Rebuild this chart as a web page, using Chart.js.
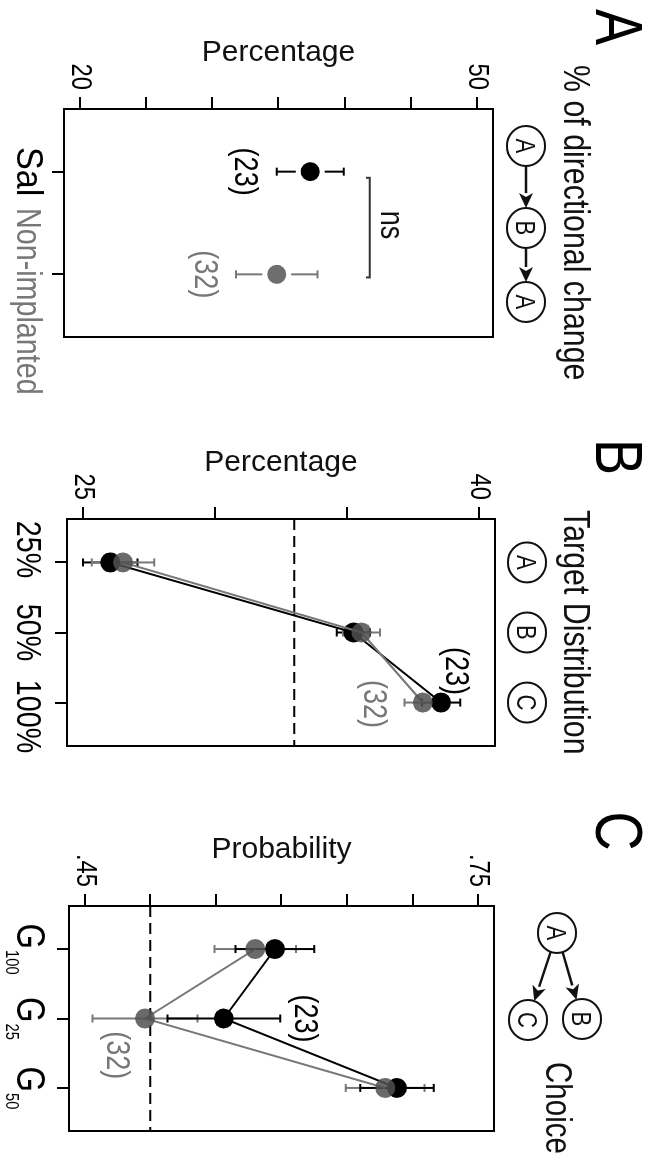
<!DOCTYPE html>
<html>
<head>
<meta charset="utf-8">
<script src="https://cdn.jsdelivr.net/npm/chart.js@4.4.1/dist/chart.umd.min.js"></script>
<style>
html, body { margin: 0; padding: 0; background: #fff; }
body { width: 656px; height: 1162px; overflow: hidden; position: relative; }
/* the figure is drawn landscape and turned a quarter clockwise */
#frame { position: absolute; left: 0; top: 0; width: 1162px; height: 656px;
         transform-origin: 0 0; transform: translateX(656px) rotate(90deg); }
#frame canvas { position: absolute; left: 0; top: 0; }
</style>
</head>
<body>
<div id="frame">
  <canvas id="panelA" width="1162" height="656"></canvas>
  <canvas id="panelB" width="1162" height="656"></canvas>
  <canvas id="panelC" width="1162" height="656"></canvas>
</div>
<script>
// ---- data ----
// A: % of directional change A->B->A
const groupsA = ["Sal", "Non-implanted"];
const ticksA = [20, 25, 30, 35, 40, 45, 50];
const tickLabelsA = ["20", "", "", "", "", "", "50"];
const meanA = [37.40, 34.87];
const errA = [2.53, 3.08];
const countsA = ["(23)", "(32)"];

// B: target distribution
const catsB = ["25%", "50%", "100%"];
const targetsB = ["A", "B", "C"];
const ticksB = [25, 30, 35, 40];
const tickLabelsB = ["25", "", "", "40"];
const salB = [26.04, 35.24, 38.56];
const salErrB = [1.03, 0.63, 0.72];
const nonB = [26.52, 35.55, 37.87];
const nonErrB = [1.18, 0.70, 0.70];
const chanceB = 33.0;

// C: choice probability
const catsC = [["G", "100"], ["G", "25"], ["G", "50"]];
const ticksC = [0.45, 0.50, 0.55, 0.60, 0.65, 0.70, 0.75];
const tickLabelsC = [".45", "", "", "", "", "", ".75"];
const salC = [0.595, 0.556, 0.688];
const salErrC = [0.030, 0.043, 0.028];
const nonC = [0.580, 0.496, 0.679];
const nonErrC = [0.031, 0.040, 0.030];
const chanceC = 0.5;

// ---- style ----
const FONT = "'Liberation Sans', Arial, sans-serif";
const SQUEEZE = 0.82;          // condensed look of the original lettering
const GRAY_DOT = "#6e6e6e";
const GRAY_SEMI = "rgba(80,80,80,0.85)";
const GRAY_LINE = "#787878";
const LABEL_BASE = 639;

function px(chart, v) { return chart.scales.x.getPixelForValue(v); }
function py(chart, v) { return chart.scales.y.getPixelForValue(v); }

function text(ctx, str, x, y, size, color, align, base, sx) {
    ctx.save();
    ctx.font = size + "px " + FONT;
    ctx.fillStyle = color || "#000";
    ctx.textAlign = align || "center";
    ctx.textBaseline = base || "alphabetic";
    ctx.translate(x, y);
    ctx.scale(sx === undefined ? SQUEEZE : sx, 1);
    ctx.fillText(str, 0, 0);
    ctx.restore();
}

function textWidth(ctx, str, size) {
    ctx.save();
    ctx.font = size + "px " + FONT;
    const w = ctx.measureText(str).width * SQUEEZE;
    ctx.restore();
    return w;
}

function yTitle(chart, str) {
    const ctx = chart.ctx, a = chart.chartArea;
    ctx.save();
    ctx.translate(a.left - 56, (a.top + a.bottom) / 2);
    ctx.rotate(-Math.PI / 2);
    text(ctx, str, 0, 0, 30, "#111", "center", "middle", 1);
    ctx.restore();
}

function yLabels(chart, ticks, labels) {
    const a = chart.chartArea;
    ticks.forEach((v, i) => {
        if (labels[i]) text(chart.ctx, labels[i], a.left - 19, py(chart, v), 29, "#000", "right", "middle");
    });
}

function frameBox(chart) {
    const ctx = chart.ctx, a = chart.chartArea;
    ctx.save();
    ctx.strokeStyle = "#000";
    ctx.lineWidth = 2;
    ctx.strokeRect(a.left, a.top, a.right - a.left, a.bottom - a.top);
    ctx.restore();
}

function errorBars(chart, xs, means, errs, color) {
    const ctx = chart.ctx;
    ctx.save();
    ctx.strokeStyle = color;
    ctx.lineWidth = 2;
    xs.forEach((xv, i) => {
        const x = px(chart, xv);
        const lo = py(chart, means[i] - errs[i]);
        const hi = py(chart, means[i] + errs[i]);
        ctx.beginPath();
        ctx.moveTo(x, lo); ctx.lineTo(x, hi);
        ctx.moveTo(x - 4, lo); ctx.lineTo(x + 4, lo);
        ctx.moveTo(x - 4, hi); ctx.lineTo(x + 4, hi);
        ctx.stroke();
    });
    ctx.restore();
}

function dashed(chart, v) {
    const ctx = chart.ctx, a = chart.chartArea, y = py(chart, v);
    ctx.save();
    ctx.strokeStyle = "#000";
    ctx.lineWidth = 2;
    ctx.setLineDash([11, 6]);
    ctx.beginPath();
    ctx.moveTo(a.left, y); ctx.lineTo(a.right, y);
    ctx.stroke();
    ctx.restore();
}

function node(ctx, letter, x, y) {
    ctx.save();
    ctx.strokeStyle = "#111";
    ctx.lineWidth = 2;
    ctx.beginPath();
    ctx.ellipse(x, y, 20, 19, 0, 0, Math.PI * 2);
    ctx.stroke();
    ctx.restore();
    text(ctx, letter, x, y + 10, 27, "#111");
}

function arrow(ctx, x1, y1, x2, y2) {
    const a = Math.atan2(y2 - y1, x2 - x1), L = 15, W = 7;
    const bx = x2 - L * Math.cos(a), by = y2 - L * Math.sin(a);
    ctx.save();
    ctx.strokeStyle = ctx.fillStyle = "#111";
    ctx.lineWidth = 2.5;
    ctx.beginPath();
    ctx.moveTo(x1, y1); ctx.lineTo(bx, by);
    ctx.stroke();
    ctx.beginPath();
    ctx.moveTo(x2, y2);
    ctx.lineTo(bx + W * Math.sin(a), by - W * Math.cos(a));
    ctx.lineTo(bx + 4 * Math.cos(a), by + 4 * Math.sin(a));
    ctx.lineTo(bx - W * Math.sin(a), by + W * Math.cos(a));
    ctx.closePath();
    ctx.fill();
    ctx.restore();
}

// arrow between two nodes, trimmed to their rims
function link(ctx, x1, y1, x2, y2) {
    const d = Math.hypot(x2 - x1, y2 - y1), ux = (x2 - x1) / d, uy = (y2 - y1) / d;
    arrow(ctx, x1 + ux * 20, y1 + uy * 20, x2 - ux * 20, y2 - uy * 20);
}

function idx(n) { return Array.from({ length: n }, (_, i) => i); }

function scales(yTicks, nCats, xPad) {
    const span = yTicks[yTicks.length - 1] - yTicks[0];
    const tick = { drawOnChartArea: false, drawTicks: true, tickLength: 12, color: "#000", lineWidth: 2 };
    return {
        x: {
            type: "linear",
            min: -xPad, max: nCats - 1 + xPad,
            afterBuildTicks: s => { s.ticks = idx(nCats).map(v => ({ value: v })); },
            afterFit: s => { s.height = 40; },
            ticks: { display: false },
            grid: tick,
            border: { display: false }
        },
        y: {
            min: yTicks[0] - span * 0.04,
            max: yTicks[yTicks.length - 1] + span * 0.04,
            afterBuildTicks: s => { s.ticks = yTicks.map(v => ({ value: v })); },
            afterFit: s => { s.width = 60; },
            ticks: { display: false },
            grid: tick,
            border: { display: false }
        }
    };
}

function layout(area) {
    return { padding: { left: area.left - 60, right: 1162 - area.right, top: area.top, bottom: 656 - area.bottom - 40 } };
}

const common = {
    responsive: false,
    animation: false,
    devicePixelRatio: 1,
    events: [],
    plugins: { legend: { display: false }, tooltip: { enabled: false }, title: { display: false } }
};

// ---- panel A ----
const areaA = { left: 109, right: 337, top: 163, bottom: 592 };
new Chart(document.getElementById("panelA"), {
    type: "line",
    data: {
        datasets: [{
            label: groupsA[0],
            data: [{ x: 0, y: meanA[0] }],
            showLine: false,
            pointRadius: 12,
            pointBorderWidth: 5,
            pointBorderColor: "#fff",
            pointBackgroundColor: "#000"
        }, {
            label: groupsA[1],
            data: [{ x: 1, y: meanA[1] }],
            showLine: false,
            pointRadius: 12,
            pointBorderWidth: 5,
            pointBorderColor: "#fff",
            pointBackgroundColor: GRAY_DOT
        }]
    },
    options: Object.assign({}, common, {
        layout: layout(areaA),
        scales: scales(ticksA, 2, 0.61)
    }),
    plugins: [{
        id: "annotA",
        beforeDatasetsDraw(chart) {
            errorBars(chart, [0], [meanA[0]], [errA[0]], "#000");
            errorBars(chart, [1], [meanA[1]], [errA[1]], GRAY_LINE);
        },
        afterDraw(chart) {
            const ctx = chart.ctx;
            frameBox(chart);
            yLabels(chart, ticksA, tickLabelsA);
            text(ctx, "A", 27, 60, 66, "#000");
            text(ctx, "% of directional change", 65, 92, 37, "#111", "left");
            node(ctx, "A", 146, 130);
            node(ctx, "B", 228, 130);
            node(ctx, "A", 302, 130);
            link(ctx, 146, 130, 228, 130);
            link(ctx, 228, 130, 302, 130);
            yTitle(chart, "Percentage");
            text(ctx, groupsA[0], px(chart, 0), LABEL_BASE, 36, "#000", "center", "alphabetic", 0.95);
            text(ctx, groupsA[1], px(chart, 1) + 27, LABEL_BASE, 35, "#777");
            text(ctx, countsA[0], px(chart, 0), py(chart, 32.4), 33, "#000", "center", "middle");
            text(ctx, countsA[1], px(chart, 1), py(chart, 29.4), 33, "#777", "center", "middle");
            // ns bracket
            const y = py(chart, 41.9), yc = py(chart, 41.6);
            const x1 = px(chart, 0.06), x2 = px(chart, 1.03);
            ctx.save();
            ctx.strokeStyle = "#333";
            ctx.lineWidth = 2;
            ctx.beginPath();
            ctx.moveTo(x1, yc); ctx.lineTo(x1, y); ctx.lineTo(x2, y); ctx.lineTo(x2, yc);
            ctx.stroke();
            ctx.restore();
            text(ctx, "ns", px(chart, 0.52), py(chart, 43.4), 33, "#111", "center", "middle");
        }
    }]
});

// ---- panel B ----
const areaB = { left: 519, right: 746, top: 161, bottom: 589 };
const labelShiftB = [-13, 0, 14];
new Chart(document.getElementById("panelB"), {
    type: "line",
    data: {
        datasets: [{
            label: "Sal",
            data: salB.map((v, i) => ({ x: i, y: v })),
            order: 1,
            borderColor: "#000",
            borderWidth: 2,
            pointRadius: 10,
            pointBorderWidth: 0,
            pointBackgroundColor: "#000"
        }, {
            label: "Non-implanted",
            data: nonB.map((v, i) => ({ x: i, y: v })),
            order: 0,
            borderColor: GRAY_LINE,
            borderWidth: 2,
            pointRadius: 10,
            pointBorderWidth: 0,
            pointBackgroundColor: GRAY_SEMI
        }]
    },
    options: Object.assign({}, common, {
        layout: layout(areaB),
        scales: scales(ticksB, 3, 0.62)
    }),
    plugins: [{
        id: "annotB",
        beforeDatasetsDraw(chart) {
            dashed(chart, chanceB);
            errorBars(chart, [0, 1, 2], salB, salErrB, "#000");
            errorBars(chart, [0, 1, 2], nonB, nonErrB, GRAY_LINE);
        },
        afterDraw(chart) {
            const ctx = chart.ctx;
            frameBox(chart);
            yLabels(chart, ticksB, tickLabelsB);
            text(ctx, "B", 457, 60, 66, "#000");
            text(ctx, "Target Distribution", 510, 92, 37, "#111", "left");
            targetsB.forEach((t, i) => node(ctx, t, px(chart, i), 129));
            yTitle(chart, "Percentage");
            catsB.forEach((c, i) => text(ctx, c, px(chart, i) + labelShiftB[i], LABEL_BASE, 35, "#000"));
            text(ctx, "(23)", px(chart, 1.55), py(chart, 39.1), 33, "#000", "center", "middle");
            text(ctx, "(32)", px(chart, 2.02), py(chart, 36.0), 33, "#777", "center", "middle");
        }
    }]
});

// ---- panel C ----
const areaC = { left: 906, right: 1131, top: 162, bottom: 587 };
new Chart(document.getElementById("panelC"), {
    type: "line",
    data: {
        datasets: [{
            label: "Sal",
            data: salC.map((v, i) => ({ x: i, y: v })),
            order: 1,
            borderColor: "#000",
            borderWidth: 2,
            pointRadius: 10,
            pointBorderWidth: 0,
            pointBackgroundColor: "#000"
        }, {
            label: "Non-implanted",
            data: nonC.map((v, i) => ({ x: i, y: v })),
            order: 0,
            borderColor: GRAY_LINE,
            borderWidth: 2,
            pointRadius: 10,
            pointBorderWidth: 0,
            pointBackgroundColor: GRAY_SEMI
        }]
    },
    options: Object.assign({}, common, {
        layout: layout(areaC),
        scales: scales(ticksC, 3, 0.62)
    }),
    plugins: [{
        id: "annotC",
        beforeDatasetsDraw(chart) {
            dashed(chart, chanceC);
            errorBars(chart, [0, 1, 2], nonC, nonErrC, GRAY_LINE);
            errorBars(chart, [0, 1, 2], salC, salErrC, "#000");
        },
        afterDraw(chart) {
            const ctx = chart.ctx;
            frameBox(chart);
            yLabels(chart, ticksC, tickLabelsC);
            text(ctx, "C", 831, 60, 66, "#000");
            node(ctx, "A", 933, 99);
            node(ctx, "B", 1019, 74);
            node(ctx, "C", 1020, 128);
            link(ctx, 933, 99, 1019, 74);
            link(ctx, 933, 99, 1020, 128);
            text(ctx, "Choice", 1062, 110, 36, "#111", "left");
            yTitle(chart, "Probability");
            catsC.forEach((c, i) => {
                const wG = textWidth(ctx, c[0], 40), wS = textWidth(ctx, c[1], 18);
                const x0 = px(chart, i) - (wG + wS + 1) / 2;
                text(ctx, c[0], x0, LABEL_BASE, 40, "#000", "left");
                text(ctx, c[1], x0 + wG + 1, LABEL_BASE + 11, 18, "#000", "left");
            });
            text(ctx, "(23)", px(chart, 1), py(chart, 0.617), 33, "#000", "center", "middle");
            text(ctx, "(32)", px(chart, 1.53), py(chart, 0.474), 33, "#777", "center", "middle");
        }
    }]
});
</script>
</body>
</html>
